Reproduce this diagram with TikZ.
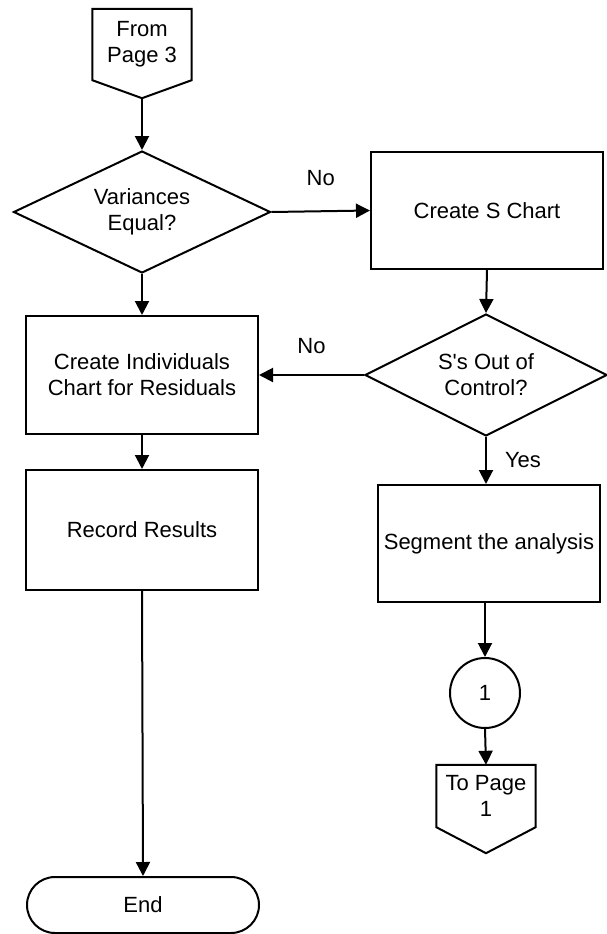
\documentclass[tikz,border=0pt]{standalone}
\usepackage{fontspec}
\setmainfont{Liberation Sans}
\usetikzlibrary{
	arrows.meta,
	shapes.geometric,
	positioning
}

\tikzset{
	box/.style={draw, line width=2pt, rectangle, minimum width=232pt, minimum height=118pt, align=center, inner sep=0pt},
	decision/.style={draw, line width=2pt, diamond, aspect=2, minimum width=250pt, minimum height=122pt, align=center, inner sep=0pt},
	terminal/.style={draw, line width=2pt, rectangle, rounded corners=28pt, minimum width=232pt, minimum height=56pt, inner sep=0pt},
	joint/.style={draw, line width=2pt, circle, minimum size=70pt, inner sep=0pt},
	pagebox/.style={rectangle, minimum width=99pt, align=center, inner sep=0pt},
	flow/.style={line width=2pt, -{Triangle[length=14pt, width=14pt]}},
	lbl/.style={inner sep=0pt}
}

\begin{document}
\begin{tikzpicture}[x=1pt, y=-1pt, font=\fontsize{22}{26}\selectfont]
		\useasboundingbox[fill=white] (0,0) rectangle (607,934);
		% Knoten, linke Spalte
		\node[pagebox, minimum height=71pt] (from) at (142,44.5) {From\\Page 3};
		\node[decision, minimum width=257pt] (vareq) at (142,212) {Variances\\Equal?};
		\node[box] (indiv) at (142,375) {Create Individuals\\Chart for Residuals};
		\node[box, minimum height=120pt] (record) at (142,530) {Record Results};
		\node[terminal] (finish) at (143,905) {End};
		% Knoten, rechte Spalte
		\node[box, minimum height=117pt] (schart) at (487,210.5) {Create S Chart};
		\node[decision, minimum width=242pt, minimum height=122pt] (sout) at (486,375) {S\textquotesingle s Out of\\Control?};
		\node[box, minimum width=222pt, minimum height=117pt] (segment) at (489,543.5) {Segment the analysis};
		\node[joint] (one) at (485,693) {1};
		\node[pagebox, minimum height=62pt] (topage) at (486,796) {To Page\\1};
		% Seitenverbinder
		\coordinate (fromtip) at ([yshift=-18pt]from.south);
		\coordinate (totip) at ([yshift=-26pt]topage.south);
		\draw[line width=2pt] (from.north west) -- (from.north east) -- (from.south east) -- (fromtip) -- (from.south west) -- cycle;
		\draw[line width=2pt] (topage.north west) -- (topage.north east) -- (topage.south east) -- (totip) -- (topage.south west) -- cycle;
		% Pfeile
		\draw[flow] (fromtip) -- (vareq.north);
		\draw[flow] (vareq.east) -- (schart.west) node[lbl, midway, above=25pt] {No};
		\draw[flow] (vareq.south) -- (indiv.north);
		\draw[flow] (schart.south) -- (sout.north);
		\draw[flow] (sout.west) -- (indiv.east) node[lbl, midway, above=20pt] {No};
		\draw[flow] (sout.south) -- (sout.south |- segment.north) node[lbl, midway, right=18pt] {Yes};
		\draw[flow] (segment.south -| one.north) -- (one.north);
		\draw[flow] (one.south) -- (topage.north);
		\draw[flow] (indiv.south) -- (record.north);
		\draw[flow] (record.south) -- (finish.north);
	\end{tikzpicture}
\end{document}
